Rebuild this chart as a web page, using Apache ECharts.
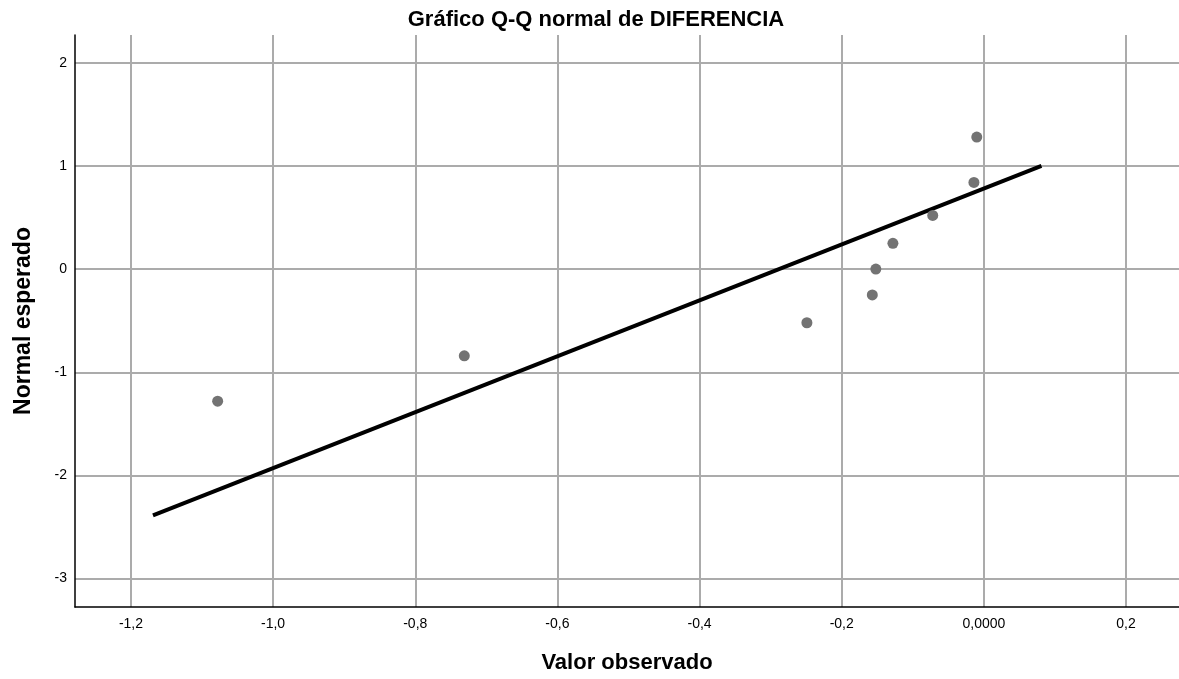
<!DOCTYPE html>
<html>
<head>
<meta charset="utf-8">
<script src="https://cdn.jsdelivr.net/npm/echarts@6/dist/echarts.min.js"></script>
<style>
  html, body { margin: 0; padding: 0; background: #fff; }
  #main { width: 1179px; height: 679px; }
</style>
</head>
<body>
<div id="main"></div>
<script>
// valores observados (DIFERENCIA) y normal esperado
var observed = [-1.078, -0.731, -0.249, -0.157, -0.152, -0.128, -0.072, -0.014, -0.010];
var expected = [-1.28, -0.84, -0.52, -0.25, 0, 0.25, 0.52, 0.84, 1.28];

// extremos de la recta de referencia
var lineX = [-1.169, 0.081];
var lineY = [-2.388, 1.0];

var xTicks = [-1.2, -1.0, -0.8, -0.6, -0.4, -0.2, 0, 0.2];
var yTicks = [-3, -2, -1, 0, 1, 2];

var chart = echarts.init(document.getElementById('main'));

var pts = observed.map(function (v, i) { return [v, expected[i]]; });
var linePts = lineX.map(function (v, i) { return [v, lineY[i]]; });

function fmtX(v) {
  if (Math.abs(v) < 1e-9) return '0,0000';
  return v.toFixed(1).replace('.', ',');
}

var option = {
  backgroundColor: '#ffffff',
  animation: false,
  textStyle: { fontFamily: 'Liberation Sans, Arial, sans-serif' },
  title: {
    text: 'Gráfico Q-Q normal de DIFERENCIA',
    left: 591,
    textAlign: 'center',
    top: 4,
    textStyle: { fontSize: 22, fontWeight: 'bold', color: '#000', fontFamily: 'Liberation Sans, Arial, sans-serif' }
  },
  grid: { left: 75, top: 35, right: 0, bottom: 72, containLabel: false },
  xAxis: {
    type: 'value',
    min: -1.2787,
    max: 0.2745,
    name: 'Valor observado',
    nameLocation: 'middle',
    nameGap: 45,
    nameTextStyle: { fontSize: 22, fontWeight: 'bold', color: '#000' },
    axisLine: { show: true, onZero: false, lineStyle: { color: '#000', width: 1.5 } },
    axisTick: { show: false, customValues: xTicks },
    axisLabel: { customValues: xTicks, formatter: fmtX, fontSize: 14, color: '#000', margin: 10 },
    splitLine: { show: true, customValues: xTicks, lineStyle: { color: '#ababab', width: 2 } }
  },
  yAxis: {
    type: 'value',
    min: -3.275,
    max: 2.269,
    name: 'Normal esperado',
    nameLocation: 'middle',
    nameGap: 40,
    nameTextStyle: { fontSize: 23, fontWeight: 'bold', color: '#000' },
    axisLine: { show: true, onZero: false, lineStyle: { color: '#000', width: 1.5 } },
    axisTick: { show: false, customValues: yTicks },
    axisLabel: { customValues: yTicks, fontSize: 14, color: '#000', margin: 8 },
    splitLine: { show: true, customValues: yTicks, lineStyle: { color: '#ababab', width: 2 } }
  },
  series: [
    {
      type: 'line',
      data: linePts,
      symbol: 'none',
      lineStyle: { color: '#000', width: 4 },
      z: 3
    },
    {
      type: 'scatter',
      data: pts,
      symbolSize: 11,
      itemStyle: { color: '#737373', opacity: 1 },
      z: 4
    }
  ]
};

chart.setOption(option);
</script>
</body>
</html>
